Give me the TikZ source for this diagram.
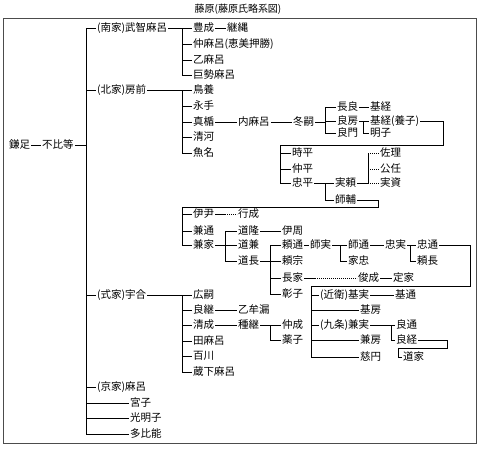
\documentclass[tikz,border=0pt]{standalone}
\usepackage{fontspec}
\newfontfamily\jp{Noto Sans CJK JP}
\begin{document}
\begin{tikzpicture}[x=1pt,y=-1pt,line width=0.7pt,
  nm/.style={anchor=west,inner xsep=0.8pt,inner ysep=0pt,text height=8.5pt,text depth=1.5pt,
    font=\jp\fontsize{10.5}{12}\selectfont},
  dotln/.style={dash pattern=on 0.8pt off 1.2pt}]
\useasboundingbox (0,0) rectangle (480,448);
\node[font=\jp\fontsize{10}{12}\selectfont] (title) at (238,9) {藤原(藤原氏略系図)};
\draw[gray!60!black,line width=0.8pt] (3,18) rectangle (476,443);
% bus x-positions
\coordinate (T) at (86,0);
\coordinate (A) at (182,0);
\coordinate (C) at (325,0);
\coordinate (D) at (363,0);
\coordinate (E) at (280,0);
\coordinate (F) at (325,0);
\coordinate (G) at (368,0);
\coordinate (H) at (182,0);
\coordinate (I) at (225,0);
\coordinate (J) at (270,0);
\coordinate (K) at (340,0);
\coordinate (L) at (410,0);
\coordinate (M) at (311,0);
\coordinate (N) at (391,0);
\coordinate (P) at (270,0);
\coordinate (Q) at (315,0);
\coordinate (r1) at (443,145);
\coordinate (r2) at (378,207);
\coordinate (r3) at (470,286);
\coordinate (r4) at (447,348);
\coordinate (r5) at (398,348);
% nodes
\node[nm] (kama) at (8,145) {鎌足};
\node[nm] (fuhi) at (41,145) {不比等};
\node[nm] (nanke) at (96,28) {(南家)武智麻呂};
\node[nm] (hokke) at (96,90) {(北家)房前};
\node[nm] (shikike) at (96,295) {(式家)宇合};
\node[nm] (kyoke) at (96,387) {(京家)麻呂};
\node[nm] (miyako) at (129,403) {宮子};
\node[nm] (komyo) at (129,418) {光明子};
\node[nm] (tahino) at (129,434) {多比能};
% nanke
\node[nm] (toyo) at (192,28) {豊成};
\node[nm] (tsugu) at (226,28) {継縄};
\node[nm] (naka) at (192,44) {仲麻呂(恵美押勝)};
\node[nm] (oto) at (192,60) {乙麻呂};
\node[nm] (kose) at (192,75) {巨勢麻呂};
% hokke
\node[nm] (tori) at (192,90) {鳥養};
\node[nm] (nagate) at (192,106) {永手};
\node[nm] (matate) at (192,122) {真楯};
\node[nm] (kiyo) at (192,137) {清河};
\node[nm] (uona) at (192,153) {魚名};
\node[nm] (uchi) at (237,122) {内麻呂};
\node[nm] (fuyu) at (292,122) {冬嗣};
\node[nm] (nagayoshi) at (336,107) {長良};
\node[nm] (yoshifusa) at (336,121) {良房};
\node[nm] (yoshikado) at (336,133) {良門};
\node[nm] (motoA) at (369,107) {基経};
\node[nm] (motoB) at (369,121) {基経(養子)};
\node[nm] (akiko) at (369,133) {明子};
\node[nm] (tokihira) at (291,153) {時平};
\node[nm] (nakahira) at (291,169) {仲平};
\node[nm] (tadahira) at (291,183) {忠平};
\node[nm] (saneyori) at (334,183) {実頼};
\node[nm] (morosuke) at (334,200) {師輔};
\node[nm] (sukemasa) at (379,153) {佐理};
\node[nm] (kinto) at (379,169) {公任};
\node[nm] (sanesuke) at (379,183) {実資};
\node[nm] (koretada) at (192,214) {伊尹};
\node[nm] (yukinari) at (237,214) {行成};
\node[nm] (kanemichi) at (192,231) {兼通};
\node[nm] (kaneie) at (192,245) {兼家};
\node[nm] (michitaka) at (237,231) {道隆};
\node[nm] (michikane) at (237,245) {道兼};
\node[nm] (michinaga) at (237,261) {道長};
\node[nm] (korechika) at (281,231) {伊周};
\node[nm] (yorimichi) at (281,245) {頼通};
\node[nm] (yorimune) at (281,261) {頼宗};
\node[nm] (nagaie) at (281,278) {長家};
\node[nm] (shoshi) at (281,294) {彰子};
\node[nm] (morozane) at (309,245) {師実};
\node[nm] (moromichi) at (347,245) {師通};
\node[nm] (ietada) at (347,261) {家忠};
\node[nm] (tadazane) at (384,245) {忠実};
\node[nm] (tadamichi) at (416,245) {忠通};
\node[nm] (yorinaga) at (416,261) {頼長};
\node[nm] (toshinari) at (357,278) {俊成};
\node[nm] (teika) at (392,278) {定家};
\node[nm] (motozane) at (319,295) {(近衛)基実};
\node[nm] (mototsu) at (394,295) {基通};
\node[nm] (motofusa) at (359,310) {基房};
\node[nm] (kanezane) at (319,325) {(九条)兼実};
\node[nm] (kanefusa) at (359,340) {兼房};
\node[nm] (jien) at (359,357) {慈円};
\node[nm] (yoshimichi) at (395,325) {良通};
\node[nm] (yoshitsune) at (395,340) {良経};
\node[nm] (douka) at (402,357) {道家};
% shikike
\node[nm] (hirotsugu) at (192,295) {広嗣};
\node[nm] (yoshitsugu) at (192,310) {良継};
\node[nm] (kiyonari) at (192,325) {清成};
\node[nm] (tamaro) at (192,341) {田麻呂};
\node[nm] (momokawa) at (192,356) {百川};
\node[nm] (kurajimaro) at (192,372) {蔵下麻呂};
\node[nm] (otomuro) at (237,310) {乙牟漏};
\node[nm] (tanetsugu) at (237,325) {種継};
\node[nm] (nakanari) at (281,325) {仲成};
\node[nm] (kusuko) at (281,340) {薬子};
% connectors
\draw (kama) -- (fuhi);
\draw (fuhi.east) -- (fuhi.east -| T);
\draw (nanke.west -| T) -- (tahino.west -| T);
\foreach \n in {nanke,hokke,shikike,kyoke,miyako,komyo,tahino}
  \draw (\n.west -| T) -- (\n.west);
% nanke
\draw (nanke.east) -- (nanke.east -| A);
\draw (toyo.west -| A) -- (kose.west -| A);
\foreach \n in {toyo,naka,oto,kose} \draw (\n.west -| A) -- (\n.west);
\draw (toyo) -- (tsugu);
% hokke
\draw (hokke.east) -- (hokke.east -| A);
\draw (tori.west -| A) -- (uona.west -| A);
\foreach \n in {tori,nagate,matate,kiyo,uona} \draw (\n.west -| A) -- (\n.west);
\draw (matate) -- (uchi);
\draw (uchi) -- (fuyu);
\draw (fuyu.east) -- (fuyu.east -| C);
\draw (nagayoshi.west -| C) -- (yoshikado.west -| C);
\foreach \n in {nagayoshi,yoshifusa,yoshikado} \draw (\n.west -| C) -- (\n.west);
\draw (nagayoshi) -- (motoA);
\draw (yoshifusa.east) -- (yoshifusa.east -| D);
\draw (motoB.west -| D) -- (akiko.west -| D) -- (akiko.west);
\draw (motoB.west -| D) -- (motoB.west);
\draw (motoB.east) -| (r1) -| (tadahira.west -| E);
\foreach \n in {tokihira,nakahira,tadahira} \draw (\n.west -| E) -- (\n.west);
\draw (tadahira.east) -- (tadahira.east -| F);
\draw (saneyori.west -| F) -- (morosuke.west -| F);
\foreach \n in {saneyori,morosuke} \draw (\n.west -| F) -- (\n.west);
\draw (saneyori.east) -- (saneyori.east -| G);
\draw (sukemasa.west -| G) -- (sanesuke.west -| G);
\foreach \n in {sukemasa,kinto,sanesuke} \draw[dotln] (\n.west -| G) -- (\n.west);
\draw (morosuke.east) -| (r2) -| (kaneie.west -| H);
\foreach \n in {koretada,kanemichi,kaneie} \draw (\n.west -| H) -- (\n.west);
\draw (koretada.east) -- (koretada.east -| I);
\draw[dotln] (koretada.east -| I) -- (yukinari.west);
\draw (kaneie.east) -- (kaneie.east -| I);
\draw (michitaka.west -| I) -- (michinaga.west -| I);
\foreach \n in {michitaka,michikane,michinaga} \draw (\n.west -| I) -- (\n.west);
\draw (michitaka) -- (korechika);
\draw (michinaga.east) -- (michinaga.east -| J);
\draw (yorimichi.west -| J) -- (shoshi.west -| J);
\foreach \n in {yorimichi,yorimune,nagaie,shoshi} \draw (\n.west -| J) -- (\n.west);
\draw (yorimichi) -- (morozane);
\draw (morozane.east) -- (morozane.east -| K);
\draw (moromichi.west -| K) -- (ietada.west -| K);
\foreach \n in {moromichi,ietada} \draw (\n.west -| K) -- (\n.west);
\draw (moromichi) -- (tadazane);
\draw (tadazane.east) -- (tadazane.east -| L);
\draw (tadamichi.west -| L) -- (yorinaga.west -| L);
\foreach \n in {tadamichi,yorinaga} \draw (\n.west -| L) -- (\n.west);
\draw (nagaie.east) -- (nagaie.east -| Q);
\draw[dotln] (nagaie.east -| Q) -- (toshinari.west);
\draw (toshinari) -- (teika);
\draw (tadamichi.east) -| (r3) -| (jien.west -| M);
\foreach \n in {motozane,motofusa,kanezane,kanefusa,jien} \draw (\n.west -| M) -- (\n.west);
\draw (motozane) -- (mototsu);
\draw (kanezane.east) -- (kanezane.east -| N);
\draw (yoshimichi.west -| N) -- (yoshitsune.west -| N);
\foreach \n in {yoshimichi,yoshitsune} \draw (\n.west -| N) -- (\n.west);
\draw (yoshitsune.east) -| (r4) -- (r5) |- (douka.west);
% shikike
\draw (shikike.east) -- (shikike.east -| A);
\draw (hirotsugu.west -| A) -- (kurajimaro.west -| A);
\foreach \n in {hirotsugu,yoshitsugu,kiyonari,tamaro,momokawa,kurajimaro} \draw (\n.west -| A) -- (\n.west);
\draw (yoshitsugu) -- (otomuro);
\draw (kiyonari) -- (tanetsugu);
\draw (tanetsugu.east) -- (tanetsugu.east -| P);
\draw (nakanari.west -| P) -- (kusuko.west -| P);
\foreach \n in {nakanari,kusuko} \draw (\n.west -| P) -- (\n.west);
\end{tikzpicture}
\end{document}
